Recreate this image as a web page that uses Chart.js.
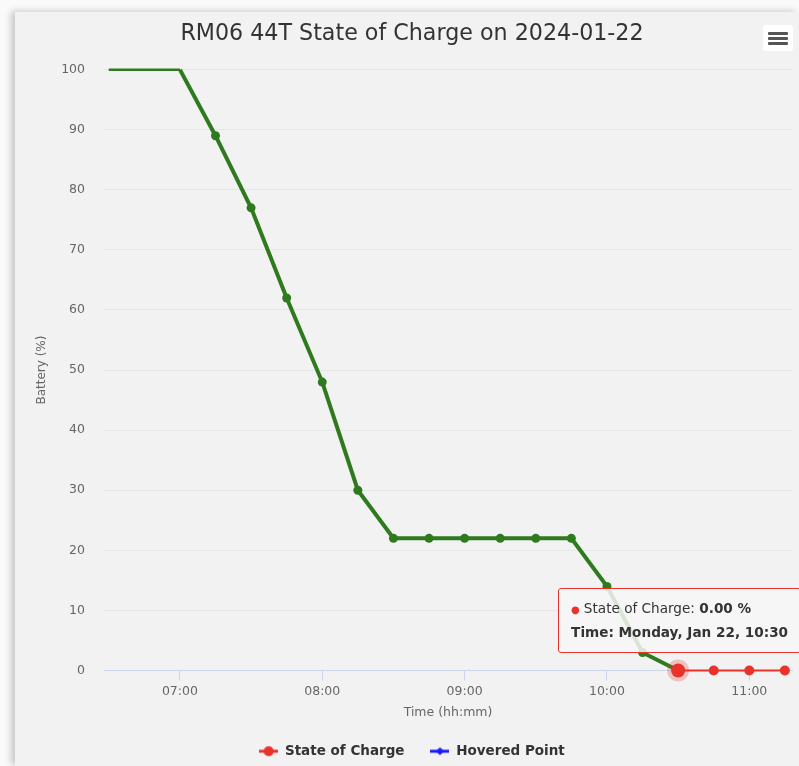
<!DOCTYPE html>
<html>
<head>
<meta charset="utf-8">
<script src="https://cdn.jsdelivr.net/npm/chart.js@4.4.1/dist/chart.umd.min.js"></script>
<style>
body{margin:0;background:#fafafa;width:799px;height:766px;overflow:hidden;font-family:'DejaVu Sans',sans-serif;}
#card{position:absolute;left:15px;top:12px;width:784px;height:754px;background:#f2f2f2;box-shadow:-4px -1px 7px rgba(0,0,0,0.2);}
#wrap{position:absolute;left:0;top:0;width:784px;height:754px;}
#menu{position:absolute;left:748px;top:13px;width:30px;height:26px;background:#fff;border-radius:3px;}
#menu span{position:absolute;left:5px;width:20px;height:3px;background:#555;border-radius:1px;}
#tip{position:absolute;display:none;background:rgba(247,247,247,0.85);border:1px solid #e9322b;border-radius:3px;
     padding:8px 12px 9px 12px;font-size:13.6px;color:#333;line-height:22px;white-space:nowrap;pointer-events:none;}
#tip .dot{color:#e9322b;font-size:10px;margin-right:4px;}
</style>
</head>
<body>
<div id="card">
  <div id="wrap"><canvas id="socChart"></canvas></div>
  <div id="menu"><span style="top:7px"></span><span style="top:12px"></span><span style="top:17px"></span></div>
  <div id="tip"></div>
</div>
<script>
const chartTitle = 'RM06 44T State of Charge on 2024-01-22';
const dayDate = [2024, 0, 22];
const times = ['06:30','07:00','07:15','07:30','07:45','08:00','08:15','08:30','08:45','09:00',
               '09:15','09:30','09:45','10:00','10:15','10:30','10:45','11:00','11:15'];
const soc = [100,100,89,77,62,48,30,22,22,22,22,22,22,14,3,0,0,0,0];
const hoveredIndex = 15;
const xTickLabels = ['07:00','08:00','09:00','10:00','11:00'];
const xRange = ['06:28','11:18'];

const green = '#2f7a1e';
const red = '#e9322b';
const blue = '#1a1aff';

function toMin(t){
	let p = t.split(':');
	return parseInt(p[0])*60 + parseInt(p[1]);
}
function fmt(m){
	let h = Math.floor(m/60), mm = m%60;
	return String(h).padStart(2,'0') + ':' + String(mm).padStart(2,'0');
}

let points = times.map((t,i) => ({x: toMin(t), y: soc[i]}));
let zoneRed = (v) => v <= 0;

let pointColors = soc.map(v => zoneRed(v) ? red : green);
let pointRadii = soc.map((v,i) => i < 2 ? 0 : (zoneRed(v) ? 5 : 4.5));

// legend symbol: short line with marker
function legendIcon(colour, diamond){
	const c = document.createElement('canvas');
	c.width = 19; c.height = 12;
	const x = c.getContext('2d');
	x.strokeStyle = colour; x.lineWidth = 3;
	x.beginPath(); x.moveTo(0,6); x.lineTo(19,6); x.stroke();
	x.fillStyle = colour;
	x.beginPath();
	if(diamond){ x.moveTo(9.5,2); x.lineTo(13.5,6); x.lineTo(9.5,10); x.lineTo(5.5,6); x.closePath(); }
	else { x.arc(9.5,6,5,0,Math.PI*2); }
	x.fill();
	return c;
}
const icons = [legendIcon(red,false), legendIcon(blue,true)];

const tipEl = document.getElementById('tip');
function externalTip(context){
	const tt = context.tooltip;
	if(tt.opacity === 0){ tipEl.style.display = 'none'; return; }
	const dp = tt.dataPoints[0];
	const m = dp.parsed.x;
	const d = new Date(dayDate[0], dayDate[1], dayDate[2], Math.floor(m/60), m%60);
	const dayTxt = d.toLocaleDateString('en-US', {weekday:'long', month:'short', day:'numeric'});
	tipEl.innerHTML = "<div><span class='dot'>&#9679;</span>State of Charge: <b>" + dp.parsed.y.toFixed(2) + " %</b></div>"
	                + "<div><b>Time: " + dayTxt + ", " + fmt(m) + "</b></div>";
	tipEl.style.display = 'block';
	tipEl.style.left = (tt.caretX - 120) + 'px';
	tipEl.style.top = (tt.caretY - 83) + 'px';
}

Chart.defaults.font.family = "'DejaVu Sans', sans-serif";
Chart.defaults.color = '#666';

const chart = new Chart(document.getElementById('socChart'), {
	type: 'line',
	data: {
		datasets: [
			{
				label: 'State of Charge',
				data: points,
				clip: false,
				borderColor: green,
				borderWidth: 4,
				pointBackgroundColor: pointColors,
				pointBorderColor: pointColors,
				pointBorderWidth: 0,
				pointRadius: pointRadii,
				pointHoverRadius: 7,
				pointHoverBackgroundColor: red,
				pointHoverBorderColor: 'rgba(233,50,43,0.25)',
				pointHoverBorderWidth: 8,
				segment: {
					borderColor: ctx => zoneRed(soc[ctx.p0DataIndex]) ? red : green,
					borderWidth: ctx => ctx.p0DataIndex === 0 ? 2.5 : (zoneRed(soc[ctx.p0DataIndex]) ? 2 : 4)
				},
				tension: 0
			},
			{
				label: 'Hovered Point',
				data: [],
				borderColor: blue,
				backgroundColor: blue
			}
		]
	},
	options: {
		responsive: true,
		maintainAspectRatio: false,
		animation: false,
		events: [],
		layout: {padding: {left: 16, right: 6, top: 0, bottom: -2}},
		plugins: {
			title: {display: true, text: chartTitle, color: '#333', font: {size: 22.2, weight: 'normal'}, padding: {top: 9, bottom: 22}},
			legend: {
				position: 'bottom',
				labels: {
					usePointStyle: true, pointStyleWidth: 19, color: '#333', font: {size: 13.5, weight: 'bold'}, padding: 26,
					generateLabels: (c) => c.data.datasets.map((ds,i) => ({
						text: ds.label, pointStyle: icons[i], fontColor: '#333', datasetIndex: i, lineWidth: 0, strokeStyle: 'transparent'
					}))
				}
			},
			tooltip: {enabled: false, external: externalTip}
		},
		scales: {
			x: {
				type: 'linear',
				min: toMin(xRange[0]),
				max: toMin(xRange[1]),
				afterBuildTicks: (s) => { s.ticks = xTickLabels.map(t => ({value: toMin(t)})); },
				ticks: {callback: (v) => fmt(v), font: {size: 12.5}, color: '#666', padding: 4, maxRotation: 0},
				grid: {drawOnChartArea: false, color: '#ccd6eb', tickLength: 10},
				border: {color: '#ccd6eb'},
				title: {display: true, text: 'Time (hh:mm)', color: '#666', font: {size: 12.5}, padding: {top: 2, bottom: -2}}
			},
			y: {
				min: 0, max: 100,
				ticks: {stepSize: 10, font: {size: 12.5}, color: '#666', padding: 19},
				grid: {color: '#e6e6e6', drawTicks: false},
				border: {display: false},
				title: {display: true, text: 'Battery (%)', color: '#666', font: {size: 12}},
				afterFit: (s) => { s.width = 73; }
			}
		}
	}
});

chart.setActiveElements([{datasetIndex: 0, index: hoveredIndex}]);
chart.tooltip.setActiveElements([{datasetIndex: 0, index: hoveredIndex}], {x: 0, y: 0});
chart.update();
</script>
</body>
</html>
